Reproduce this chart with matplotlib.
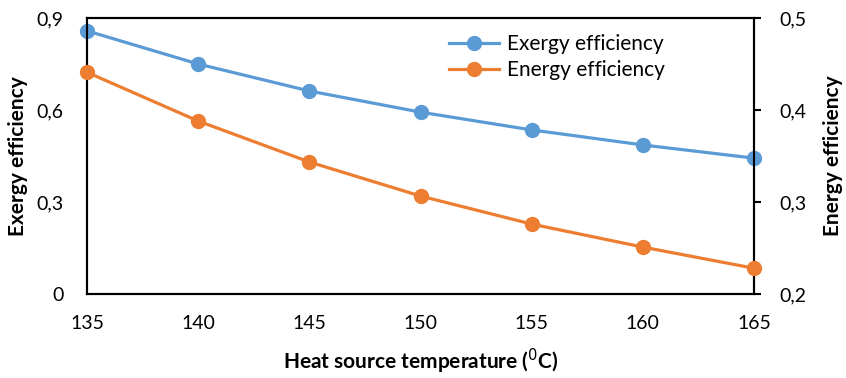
import matplotlib
matplotlib.use("Agg")
import matplotlib.pyplot as plt
from matplotlib.ticker import FuncFormatter

plt.rcParams['font.family'] = ['Lato', 'DejaVu Sans']

temperature = [135, 140, 145, 150, 155, 160, 165]
exergy_eff = [0.858, 0.750, 0.662, 0.593, 0.535, 0.486, 0.443]
energy_eff = [0.441, 0.388, 0.3435, 0.3065, 0.276, 0.251, 0.228]

left_ticks = [0, 0.3, 0.6, 0.9]
right_ticks = [0.2, 0.3, 0.4, 0.5]
x_ticks = [135, 140, 145, 150, 155, 160, 165]

blue = '#5B9BD5'
orange = '#ED7D31'

def comma(v, pos):
    s = f"{v:.1f}".rstrip('0').rstrip('.')
    return s.replace('.', ',')

fig = plt.figure(figsize=(8.46, 3.78), dpi=100)
ax = fig.add_axes([87/846, 84/378, 667/846, 276/378])
ax2 = ax.twinx()

l1, = ax.plot(temperature, exergy_eff, color=blue, lw=2.3, marker='o', ms=10,
              label='Exergy efficiency', clip_on=False, zorder=3)
l2, = ax2.plot(temperature, energy_eff, color=orange, lw=2.3, marker='o', ms=10,
               label='Energy efficiency', clip_on=False, zorder=3)

ax.set_xlim(135, 165)
ax.set_ylim(0, 0.9)
ax2.set_ylim(0.2, 0.5)
ax.set_xticks(x_ticks)
ax.set_yticks(left_ticks)
ax2.set_yticks(right_ticks)
ax.yaxis.set_major_formatter(FuncFormatter(comma))
ax2.yaxis.set_major_formatter(FuncFormatter(comma))

for a in (ax, ax2):
    for sp in a.spines.values():
        sp.set_linewidth(1.5)
        sp.set_color('black')

ax.tick_params(axis='x', length=0, pad=15, labelsize=14)
ax.tick_params(axis='y', length=0, pad=17, labelsize=14)
ax2.tick_params(axis='y', length=5, width=1.5, direction='out', pad=13, labelsize=14)

ax.set_xlabel('Heat source temperature ($^0$C)', fontsize=15, fontweight='bold', labelpad=11)
ax.set_ylabel('Exergy efficiency', fontsize=15, fontweight='bold', labelpad=6)
ax2.set_ylabel('Energy efficiency', fontsize=15, fontweight='bold', labelpad=12)

ax2.legend(handles=[l1, l2], loc='upper left', bbox_to_anchor=(0.515, 1.01),
           frameon=False, fontsize=15, handlelength=2.4, handletextpad=0.35,
           labelspacing=0.3)

fig.savefig('out.png', dpi=100)
